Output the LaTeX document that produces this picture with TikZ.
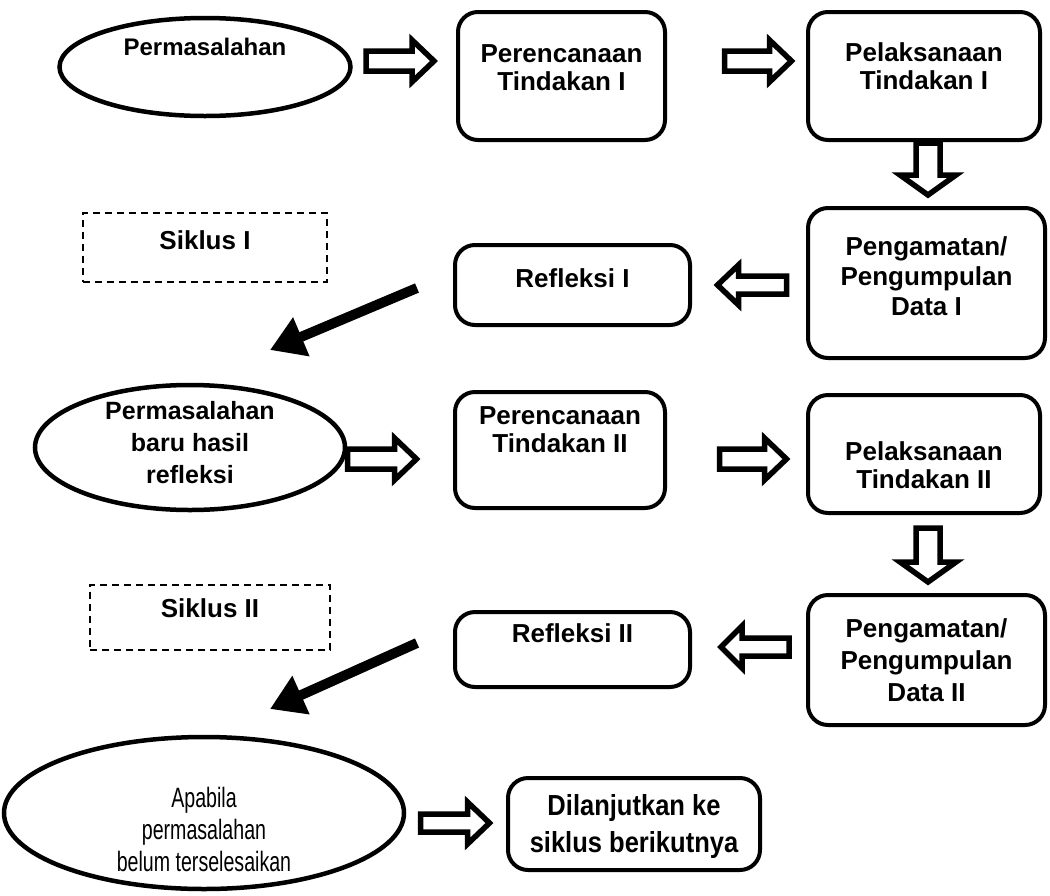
\documentclass[tikz,border=0pt]{standalone}
\usepackage{fontspec}
\setmainfont{Liberation Sans}
\newfontfamily\narrowfont[FakeStretch=0.70]{Liberation Sans}
\newfontfamily\semifont[FakeStretch=0.88]{Liberation Sans}
\usetikzlibrary{shapes.geometric,arrows.meta,calc}
\newcommand\blockarrow[7]{%
  \draw[harrow,shift={(#1,#2)},rotate=#3]
    ({-#4/2},{-#5}) -- ({#4/2-#7},{-#5}) -- ({#4/2-#7},{-#6}) -- ({#4/2},0)
    -- ({#4/2-#7},{#6}) -- ({#4/2-#7},{#5}) -- ({-#4/2},{#5}) -- cycle;}
\begin{document}
\begin{tikzpicture}[x=1pt,y=-1pt,
  rbox/.style={draw,line width=4pt,rounded corners=20pt,inner sep=0pt},
  oval/.style={draw,ellipse,line width=4.5pt,inner sep=0pt},
  dbox/.style={draw,line width=1.5pt,inner sep=0pt,dash pattern=on 7pt off 5pt},
  txt/.style={font=\bfseries\fontsize{26}{28}\selectfont,align=center},
  harrow/.style={draw,line width=5.5pt,fill=white,line join=miter},
  blk/.style={line width=10pt,-{Triangle[length=34pt,width=40pt]}},
]
\useasboundingbox (0,0) rectangle (1050,895);
% row 1
\node[oval,minimum width=291,minimum height=98,label={[font=\bfseries\fontsize{24}{28}\selectfont,yshift=20pt]center:Permasalahan}] (e1) at (205,67) {};
\node[rbox,minimum width=207,minimum height=128,label={[txt,yshift=8pt]center:Perencanaan\\Tindakan I}] (p1) at (561.5,76) {};
\node[rbox,minimum width=232,minimum height=128,label={[txt,yshift=10pt]center:Pelaksanaan\\Tindakan I}] (l1) at (924,76) {};
\node[rbox,minimum width=237,minimum height=150,label={[txt,yshift=7pt,font=\bfseries\fontsize{26}{30}\selectfont]center:Pengamatan/\\Pengumpulan\\Data I}] (g1) at (926.5,283) {};
\node[rbox,minimum width=235,minimum height=80,label={[txt,yshift=7pt]center:Refleksi I}] (r1) at (572.5,285) {};
\node[dbox,minimum width=244,minimum height=69,label={[txt,yshift=7.5pt]center:Siklus I}] (s1) at (205,247.5) {};
% row 2
\node[oval,minimum width=310,minimum height=125,label={[txt,yshift=5pt,font=\bfseries\fontsize{25}{32}\selectfont]center:Permasalahan\\baru hasil\\refleksi}] (e2) at (190,447.5) {};
\node[rbox,minimum width=210,minimum height=116,label={[txt,yshift=20pt]center:Perencanaan\\Tindakan II}] (p2) at (560,450) {};
\node[rbox,minimum width=232,minimum height=118,label={[txt,yshift=-11.5pt]center:Pelaksanaan\\Tindakan II}] (l2) at (924,454) {};
\node[rbox,minimum width=237,minimum height=130,label={[txt,font=\bfseries\fontsize{26}{32}\selectfont]center:Pengamatan/\\Pengumpulan\\Data II}] (g2) at (926.5,660) {};
\node[rbox,minimum width=235,minimum height=75,label={[txt,yshift=16.5pt]center:Refleksi II}] (r2) at (572.5,649.5) {};
\node[dbox,minimum width=240,minimum height=65,label={[txt,yshift=9.5pt]center:Siklus II}] (s2) at (210,617.5) {};
% row 3
\node[oval,minimum width=400,minimum height=152,label={[align=center,font=\narrowfont\fontsize{28}{32}\selectfont,yshift=-16pt]center:Apabila\\permasalahan\\belum terselesaikan}] (e3) at (204,813) {};
\node[rbox,minimum width=252,minimum height=92,label={[align=center,font=\semifont\bfseries\fontsize{29}{37}\selectfont,yshift=-2pt]center:Dilanjutkan ke\\siklus berikutnya}] (d) at (634,824) {};
% hollow block arrows: x, y, angle, length, shaft half, head half, head length
\blockarrow{400}{61}{0}{68}{10}{21}{22}
\blockarrow{758}{61}{0}{67}{10}{21}{22}
\blockarrow{928}{169}{-90}{52}{12}{28}{20}
\blockarrow{752}{285}{180}{69}{9}{20}{21}
\blockarrow{382}{459}{0}{69}{10}{21}{22}
\blockarrow{753}{459}{0}{67}{10}{21}{22}
\blockarrow{928}{555}{-90}{54}{12}{28}{20}
\blockarrow{755}{647}{180}{68}{9}{21}{21}
\blockarrow{455}{823}{0}{69}{9}{21}{22}
% black arrows
\coordinate (k1s) at (417,288);
\coordinate (k1e) at (270,350);
\coordinate (k2s) at (417,643);
\coordinate (k2e) at (270,709);
\draw[blk] (k1s) -- (k1e);
\draw[blk] (k2s) -- (k2e);
\end{tikzpicture}
\end{document}
